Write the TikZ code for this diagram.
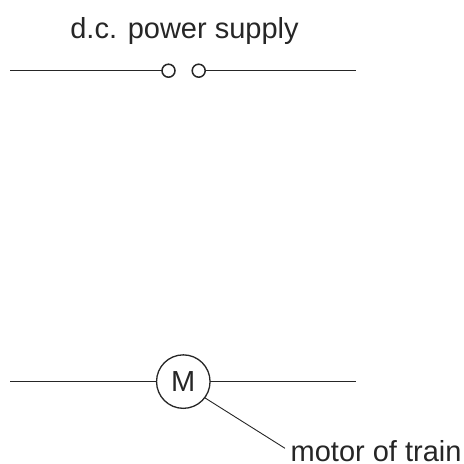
\documentclass[tikz,border=0pt]{standalone}
\usepackage{fontspec}
\setmainfont{Liberation Sans}
\tikzset{
 wire/.style={line width=1.5pt,draw=black!85},
 leader/.style={line width=0.9pt,draw=black!85},
 term/.style={circle,draw=black!85,line width=1.5pt,inner sep=0pt,minimum size=13pt,outer sep=0pt},
 motor/.style={circle,draw=black!85,line width=1.3pt,inner sep=0pt,minimum size=53.5pt,outer sep=0pt,font=\fontsize{29}{30}\selectfont,text=black!85},
 lab/.style={inner sep=0pt,font=\fontsize{29}{30}\selectfont,text=black!85}
}
\begin{document}
\begin{tikzpicture}[x=1pt,y=-1pt]
\useasboundingbox (0,0) rectangle (464,464);
\node[lab,anchor=base] (title) at (184.5,38.5) {d.c. power supply};
\coordinate (a1) at (10,70.7);
\coordinate (a2) at (356,70.7);
\node[term] (t1) at (168.5,70.7) {};
\node[term] (t2) at (198.7,70.7) {};
\draw[wire] (a1) -- (t1);
\draw[wire] (t2) -- (a2);
\coordinate (b1) at (10,381.6);
\coordinate (b2) at (356,381.6);
\node[motor] (m) at (183.3,381.6) {M};
\draw[wire] (b1) -- (m);
\draw[wire] (m) -- (b2);
\node[lab,anchor=base west] (ml) at (290.5,461) {motor of train};
\coordinate (lead) at (285,448.3);
\draw[leader] (m.-37) -- (lead);
\end{tikzpicture}
\end{document}
